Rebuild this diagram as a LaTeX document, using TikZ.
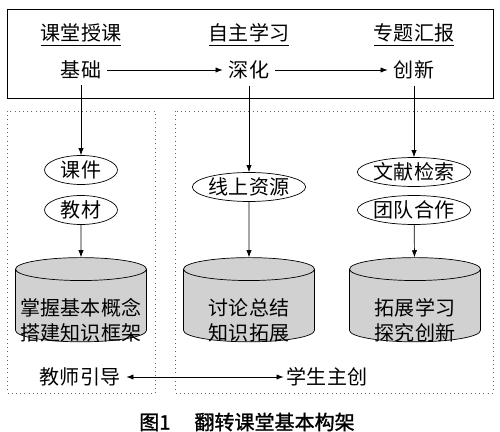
\documentclass[tikz,border=0pt]{standalone}
\usepackage{fontspec}
\setmainfont{Noto Sans CJK SC}
\newfontfamily\capfont{Noto Sans CJK SC}[FakeBold=1.3]
\usetikzlibrary{positioning,arrows.meta,shapes.geometric}

\begin{document}
\begin{tikzpicture}[
            x=0.02cm, y=-0.02cm,
            every node/.style={font=\fontsize{11.4}{14.2}\selectfont},
            word/.style={inner sep=0.12cm},
            oval/.style={draw, thin, ellipse, inner sep=0pt, minimum height=0.58cm},
            tank/.style={draw, thin, cylinder, shape border rotate=90, aspect=0.25,
                fill=black!18, minimum width=2.62cm, minimum height=1.58cm,
                text width=1.6cm, text height=0.5cm, text depth=0.35cm},
            tanktext/.style={align=center, inner sep=0pt},
            frame/.style={draw, black!60, dotted},
            arr/.style={-{Latex[length=4pt,width=3pt]}, thin},
        ]
            \useasboundingbox (0,0) rectangle (500,432);
            \draw[thin] (7,9) rectangle (493,98);
            \draw[frame] (7,111) rectangle (155,393);
            \draw[frame] (175,111) rectangle (493,393);

            % headers
            \node (teach) at (81,35) {\underline{课堂授课}};
            \node (self) at (249,35) {\underline{自主学习}};
            \node (topic) at (414,35) {\underline{专题汇报}};

            \node[word] (base) at (81,70) {基础};
            \node[word] (deep) at (249,70) {深化};
            \node[word] (innov) at (414,70) {创新};
            \draw[arr] (base) -- (deep);
            \draw[arr] (deep) -- (innov);

            % left column
            \node[oval, minimum width=1.46cm] (ware) at (81,170) {课件};
            \node[oval, minimum width=1.46cm] (book) at (81,210) {教材};
            \node[tank] (grasp) at (81,308) {};
            \node[tanktext] (grasptext) at ([yshift=-0.24cm]grasp.center) {掌握基本概念\\搭建知识框架};
            \draw[arr] (base) -- (ware);
            \draw[arr] (book) -- (grasp);

            % middle column
            \node[oval, minimum width=2.24cm] (online) at (249,187) {线上资源};
            \node[tank] (discuss) at (249,308) {};
            \node[tanktext] (discusstext) at ([yshift=-0.24cm]discuss.center) {讨论总结\\知识拓展};
            \draw[arr] (deep) -- (online);
            \draw[arr] (online) -- (discuss);

            % right column
            \node[oval, minimum width=2.24cm] (search) at (414,172) {文献检索};
            \node[oval, minimum width=2.24cm] (team) at (414,210) {团队合作};
            \node[tank] (explore) at (415,308) {};
            \node[tanktext] (exploretext) at ([yshift=-0.24cm]explore.center) {拓展学习\\探究创新};
            \draw[arr] (innov) -- (search);
            \draw[arr] (team) -- (explore);

            % bottom
            \node[word] (guide) at (80,377) {教师引导};
            \node[inner sep=0.06cm] (create) at (327,377) {学生主创};
            \draw[{Latex[length=4pt,width=3pt]}-{Latex[length=4pt,width=3pt]}, thin] (guide) -- (create);

            \node (caption) at (247,422) {\capfont 图1\hspace{1.2em}翻转课堂基本构架};
        \end{tikzpicture}
\end{document}
